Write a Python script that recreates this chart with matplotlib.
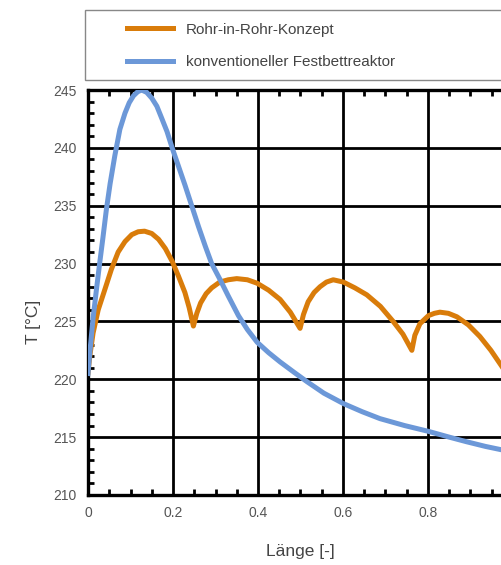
import matplotlib
matplotlib.use("Agg")
import matplotlib.pyplot as plt
from matplotlib.patches import Rectangle
from matplotlib.ticker import MultipleLocator, FuncFormatter

plt.rcParams["font.family"] = ["Liberation Sans", "DejaVu Sans"]

# values
laenge_konv = [0.0, 0.005, 0.012, 0.02, 0.027, 0.035, 0.043, 0.052, 0.063, 0.075, 0.087,
               0.097, 0.107, 0.117, 0.126, 0.138, 0.150, 0.162, 0.173, 0.186, 0.198,
               0.213, 0.228, 0.244, 0.26, 0.276, 0.291, 0.311, 0.330, 0.354, 0.375,
               0.398, 0.425, 0.452, 0.485, 0.515, 0.555, 0.601, 0.645, 0.687, 0.745,
               0.801, 0.85, 0.891, 0.935, 0.974, 1.0]
temp_konv = [220.5, 222.6, 225.3, 227.8, 229.9, 232.2, 234.6, 236.9, 239.3, 241.6, 243.0,
             243.9, 244.5, 244.85, 245.0, 244.8, 244.3, 243.6, 242.6, 241.4, 240.0,
             238.4, 236.8, 235.0, 233.2, 231.5, 230.0, 228.6, 227.2, 225.5, 224.3,
             223.2, 222.3, 221.5, 220.6, 219.8, 218.8, 217.9, 217.2, 216.6, 216.0,
             215.5, 215.0, 214.6, 214.2, 213.9, 213.7]

laenge_rir = [0.0, 0.005, 0.012, 0.024, 0.04, 0.055, 0.071, 0.087, 0.103, 0.118, 0.133,
              0.15, 0.166, 0.182, 0.198, 0.213, 0.228, 0.238, 0.248, 0.256, 0.265,
              0.278, 0.291, 0.31, 0.33, 0.35, 0.375, 0.398, 0.425, 0.452, 0.476,
              0.499, 0.507, 0.518, 0.532, 0.546, 0.561, 0.577, 0.601, 0.628, 0.656,
              0.688, 0.718, 0.741, 0.762, 0.769, 0.781, 0.801, 0.815, 0.828, 0.848,
              0.868, 0.895, 0.922, 0.948, 0.974, 1.0]
temp_rir = [220.6, 222.2, 224.0, 226.0, 227.8, 229.5, 231.0, 231.9, 232.5, 232.75, 232.8,
            232.6, 232.1, 231.3, 230.2, 228.9, 227.5, 226.2, 224.6, 225.7, 226.6,
            227.4, 227.9, 228.4, 228.6, 228.7, 228.6, 228.3, 227.7, 226.9, 225.8,
            224.4, 225.6, 226.7, 227.5, 228.0, 228.4, 228.6, 228.4, 227.9, 227.3,
            226.3, 225.0, 223.9, 222.5, 223.8, 224.8, 225.5, 225.7, 225.8, 225.7,
            225.4, 224.7, 223.7, 222.5, 221.1, 219.7]

labels = ["Rohr-in-Rohr-Konzept", "konventioneller Festbettreaktor"]
colors = ["#d97c0a", "#6c98d8"]

W, H = 502, 565
fig = plt.figure(figsize=(W / 100, H / 100), dpi=100)
# axes runs past the right edge of the picture, as in the reference
ax = fig.add_axes([88 / W, 1 - 495 / H, 425 / W, 405 / H])

l1, = ax.plot(laenge_rir, temp_rir, color=colors[0], lw=3.6, zorder=3)
l2, = ax.plot(laenge_konv, temp_konv, color=colors[1], lw=3.6, zorder=3)

ax.set_xlim(0, 1)
ax.set_ylim(210, 245)
ax.xaxis.set_major_locator(MultipleLocator(0.2))
ax.xaxis.set_minor_locator(MultipleLocator(0.05))
ax.yaxis.set_major_locator(MultipleLocator(5))
ax.yaxis.set_minor_locator(MultipleLocator(1))
# the "1" label sits outside the cropped picture
ax.xaxis.set_major_formatter(FuncFormatter(lambda v, p: "" if v > 0.9 else f"{v:g}"))

ax.grid(True, which="major", color="black", lw=2.0)
ax.set_axisbelow(True)
for sp in ax.spines.values():
    sp.set_linewidth(2.4)
ax.tick_params(which="both", direction="in", colors="black", labelcolor="#555555",
               labelsize=10, pad=8, top=True)
ax.tick_params(which="major", length=0)
ax.tick_params(which="minor", length=4, width=2)

ax.set_xlabel("Länge [-]", fontsize=12.5, color="#444444", labelpad=17)
ax.set_ylabel("T [°C]", fontsize=12.5, color="#444444")
ax.yaxis.set_label_coords(-0.11, (495 - 322) / 405)

# legend frame
fig.patches.append(Rectangle((85 / W, 1 - 80 / H), 440 / W, 70 / H, transform=fig.transFigure,
                             facecolor="white", edgecolor="#888888", lw=1.0))
fig.legend([l1, l2], labels, loc="upper left", bbox_to_anchor=(113 / W, 1 - 9 / H),
           frameon=False, fontsize=11, handlelength=3.0, handletextpad=0.85,
           labelspacing=1.2, borderpad=0.4, labelcolor="#444444")

fig.savefig("out.png", dpi=100)
